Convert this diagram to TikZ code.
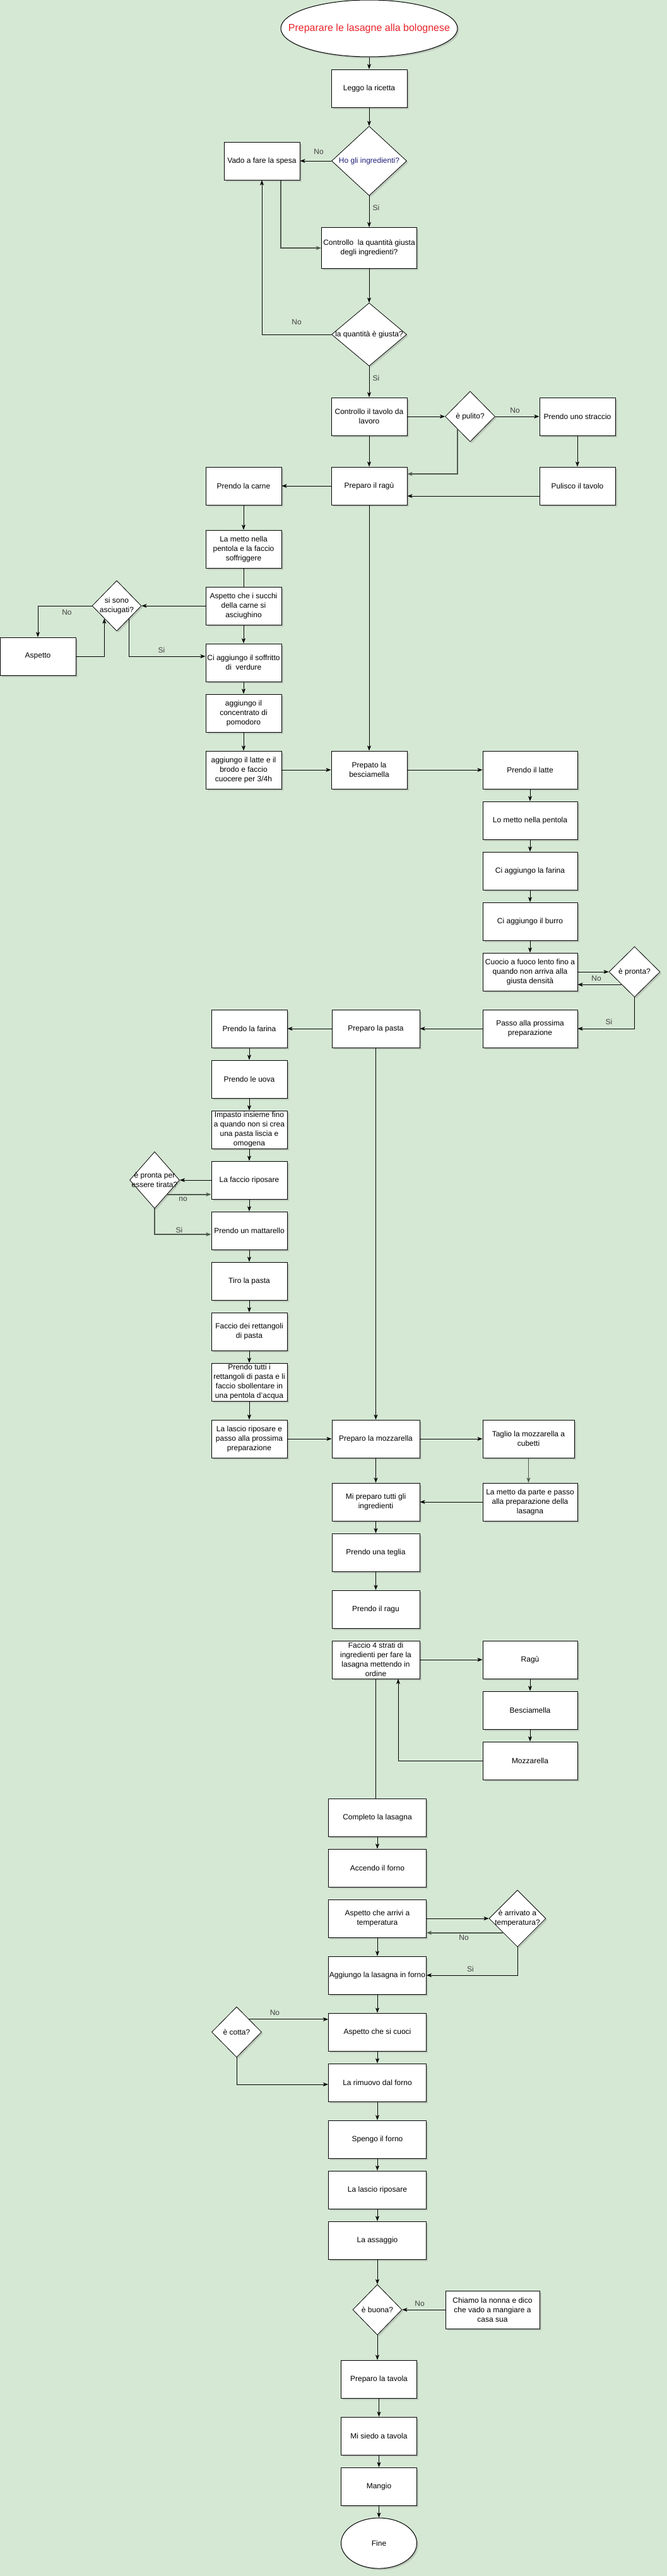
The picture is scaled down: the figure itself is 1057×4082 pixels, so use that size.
\documentclass[tikz,border=0pt]{standalone}
\usepackage{fontspec}
\setmainfont{Liberation Sans}
\usetikzlibrary{shapes.geometric,arrows.meta,shadows,calc}
\definecolor{sfondo}{HTML}{D5E8D4}
\definecolor{rosso}{HTML}{E8232A}
\definecolor{blu}{HTML}{1F1F7A}
\definecolor{grigio}{HTML}{505A50}

\begin{document}
\begin{tikzpicture}[x=1pt,y=-1pt,font=\fontsize{12}{15}\selectfont,
  ombra/.style={drop shadow={shadow xshift=2.5pt,shadow yshift=-2.5pt,opacity=0.3}},
  box/.style={draw,fill=white,line width=1pt,minimum width=#1,minimum height=60pt,align=center,inner sep=1pt,ombra},
  box/.default=120pt,
  rombo/.style 2 args={diamond,draw,fill=white,line width=0.8pt,minimum width=#1,minimum height=#2,inner sep=0pt,ombra},
  ellisse/.style={ellipse,draw,fill=white,line width=1pt,inner sep=0pt,ombra},
  testo/.style={align=center,inner sep=0pt},
  etic/.style={text=black!75,inner sep=0pt},
  freccia/.style={-{Stealth[length=8pt,width=6pt,inset=2pt]},line width=0.8pt},
  grossa/.style={freccia,draw=grigio,line width=1.6pt}]
%\draw[help lines,step=50] (0,0) grid (1057,4082);
\useasboundingbox (0,0) rectangle (1057,4082);
\fill[sfondo] (0,0) rectangle (1057,4082);

% inizio e ingredienti
\node[ellisse,minimum width=280pt,minimum height=90pt] (inizio) at (585,45) {};
\node[testo,text=rosso,font=\fontsize{16}{19}\selectfont] (titolo) at (inizio) {Preparare le lasagne alla bolognese};
\node[box] (leggo) at (585,140) {Leggo la ricetta};
\node[rombo={119pt}{110pt}] (ho) at (585,255) {};
\node[testo,text=blu] (ho-t) at (ho) {Ho gli ingredienti?};
\node[box] (spesa) at (415,255) {Vado a fare la spesa};
\node[box=151pt,minimum height=65pt] (quantita) at (585,393) {Controllo\ \ la quantità giusta\\degli ingredienti?};
\node[rombo={119pt}{100pt}] (giusta) at (585,530) {};
\node[testo] (giusta-t) at (giusta) {la quantità è giusta?};

% tavolo
\node[box] (tavolo) at (585,660) {Controllo il tavolo da\\lavoro};
\node[rombo={79pt}{80pt}] (pulito) at (745,660) {};
\node[testo] (pulito-t) at (pulito) {è pulito?};
\node[box] (straccio) at (915,660) {Prendo uno straccio};
\node[box] (pulisco) at (915,770) {Pulisco il tavolo};

% ragu
\node[box] (ragu) at (585,770) {Preparo il ragù};
\node[box] (carne) at (386,770) {Prendo la carne};
\node[box] (soffriggo) at (386,870) {La metto nella\\pentola e la faccio\\soffriggere};
\node[box] (succhi) at (386,960) {Aspetto che i succhi\\della carne si\\asciughino};
\node[rombo={78pt}{80pt}] (asciugati) at (185,960) {};
\node[testo] (asciugati-t) at (asciugati) {si sono\\asciugati?};
\node[box] (aspetto) at (60,1040) {Aspetto};
\node[box] (soffritto) at (386,1050) {Ci aggiungo il soffritto\\di\ \ verdure};
\node[box] (concentrato) at (386,1130) {aggiungo il\\concentrato di\\pomodoro};
\node[box] (brodo) at (386,1220) {aggiungo il latte e il\\brodo e faccio\\cuocere per 3/4h};

% besciamella
\node[box] (besciamella) at (585,1220) {Prepato la\\besciamella};
\node[box=150pt] (latte) at (840,1220) {Prendo il latte};
\node[box=150pt] (pentola) at (840,1300) {Lo metto nella pentola};
\node[box=150pt] (farina) at (840,1380) {Ci aggiungo la farina};
\node[box=150pt] (burro) at (840,1460) {Ci aggiungo il burro};
\node[box=150pt] (cuocio) at (840,1540) {Cuocio a fuoco lento fino a\\quando non arriva alla\\giusta densità};
\node[rombo={81pt}{80pt}] (pronta) at (1005.5,1540) {};
\node[testo] (pronta-t) at (pronta) {è pronta?};
\node[box=150pt] (passo) at (840,1630) {Passo alla prossima\\preparazione};

% pasta
\node[box=139pt] (pasta) at (595.5,1630) {Preparo la pasta};
\node[box] (prendofarina) at (395,1630) {Prendo la farina};
\node[box] (uova) at (395,1710) {Prendo le uova};
\node[box] (impasto) at (395,1790) {Impasto insieme fino\\a quando non si crea\\una pasta liscia e\\omogena};
\node[box] (riposare) at (395,1870) {La faccio riposare};
\node[rombo={79pt}{90pt}] (tirata) at (245,1870) {};
\node[testo] (tirata-t) at (tirata) {è pronta per\\essere tirata?};
\node[box] (mattarello) at (395,1950) {Prendo un mattarello};
\node[box] (tiro) at (395,2030) {Tiro la pasta};
\node[box] (rettangoli) at (395,2110) {Faccio dei rettangoli\\di pasta};
\node[box] (sbollento) at (395,2190) {Prendo tutti i\\rettangoli di pasta e li\\faccio sbollentare in\\una pentola d'acqua};
\node[box] (lascio) at (395,2280) {La lascio riposare e\\passo alla prossima\\preparazione};

% mozzarella e lasagna
\node[box=139pt] (mozzarella) at (595.5,2280) {Preparo la mozzarella};
\node[box=145pt] (taglio) at (837.5,2280) {Taglio la mozzarella a\\cubetti};
\node[box=139pt] (preparo) at (595.5,2380) {Mi preparo tutti gli\\ingredienti};
\node[box=150pt] (parte) at (840,2380) {La metto da parte e passo\\alla preparazione della\\lasagna};
\node[box=139pt] (teglia) at (595.5,2460) {Prendo una teglia};
\node[box=139pt] (prendoragu) at (595.5,2550) {Prendo il ragu};
\node[box=139pt] (strati) at (595.5,2630) {Faccio 4 strati di\\ingredienti per fare la\\lasagna mettendo in\\ordine};
\node[box=150pt] (stratoragu) at (840,2630) {Ragù};
\node[box=150pt] (stratobesc) at (840,2710) {Besciamella};
\node[box=150pt] (stratomozz) at (840,2790) {Mozzarella};

% forno
\node[box=155pt] (completo) at (598,2880) {Completo la lasagna};
\node[box=155pt] (accendo) at (598,2960) {Accendo il forno};
\node[box=155pt] (arrivi) at (598,3040) {Aspetto che arrivi a\\temperatura};
\node[rombo={90pt}{90pt}] (temp) at (820,3040) {};
\node[testo] (temp-t) at (temp) {è arrivato a\\temperatura?};
\node[box=155pt] (inforno) at (598,3130) {Aggiungo la lasagna in forno};
\node[box=155pt] (cuoci) at (598,3220) {Aspetto che si cuoci};
\node[rombo={79pt}{80pt}] (cotta) at (375,3220) {};
\node[testo] (cotta-t) at (cotta) {è cotta?};
\node[box=155pt] (rimuovo) at (598,3300) {La rimuovo dal forno};
\node[box=155pt] (spengo) at (598,3390) {Spengo il forno};
\node[box=155pt] (riposo) at (598,3470) {La lascio riposare};
\node[box=155pt] (assaggio) at (598,3550) {La assaggio};
\node[rombo={78pt}{80pt}] (buona) at (598,3660) {};
\node[testo] (buona-t) at (buona) {è buona?};
\node[box=149pt] (nonna) at (780.5,3660) {Chiamo la nonna e dico\\che vado a mangiare a\\casa sua};

% fine
\node[box] (tavola) at (600.5,3770) {Preparo la tavola};
\node[box] (siedo) at (600.5,3860) {Mi siedo a tavola};
\node[box] (mangio) at (600.5,3940) {Mangio};
\node[ellisse,minimum width=120pt,minimum height=80pt] (fine) at (600.5,4030) {Fine};

% punti sui rombi
\coordinate (pul) at ($(pulito.south)!0.5!(pulito.west)$);
\coordinate (as1) at ($(asciugati.south)!0.5!(asciugati.west)$);
\coordinate (as2) at ($(asciugati.south)!0.5!(asciugati.east)$);
\coordinate (pr1) at ($(pronta.south)!0.5!(pronta.west)$);
\coordinate (ti1) at ($(tirata.south)!0.5!(tirata.east)$);
\coordinate (te1) at ($(temp.south)!0.5!(temp.west)$);
\coordinate (co1) at ($(cotta.north)!0.5!(cotta.east)$);

% collegamenti
\draw[freccia] (inizio) -- (leggo);
\draw[freccia] (leggo) -- (ho);
\draw[freccia] (ho) -- (spesa);
\draw[freccia] (ho) -- (quantita);
\draw[grossa] ([xshift=30pt]spesa.south) |- (quantita.west);
\draw[freccia] (quantita) -- (giusta);
\draw[freccia] (giusta.west) -| (spesa.south);
\draw[freccia] (giusta) -- (tavolo);
\draw[freccia] (tavolo) -- (pulito);
\draw[freccia] (pulito) -- (straccio);
\draw[freccia] (straccio) -- (pulisco);
\draw[freccia] (tavolo) -- (ragu);
\draw[grossa] (pul) |- ([yshift=19pt]ragu.east);
\draw[freccia] ([yshift=-16pt]pulisco.west) -- ([yshift=-16pt]ragu.east);
\draw[freccia] (ragu) -- (carne);
\draw[freccia] (carne) -- (soffriggo);
\draw[line width=0.8pt] (soffriggo) -- (succhi);
\draw[freccia] (succhi) -- (asciugati);
\draw[freccia] (asciugati.west) -| (aspetto.north);
\draw[freccia] (aspetto.east) -| (as1);
\draw[freccia] (as2) |- ([yshift=10pt]soffritto.west);
\draw[freccia] (succhi) -- (soffritto);
\draw[freccia] (soffritto) -- (concentrato);
\draw[freccia] (concentrato) -- (brodo);
\draw[freccia] (ragu) -- (besciamella);
\draw[freccia] (brodo) -- (besciamella);
\draw[freccia] (besciamella) -- (latte);
\draw[freccia] (latte) -- (pentola);
\draw[freccia] (pentola) -- (farina);
\draw[freccia] (farina) -- (burro);
\draw[freccia] (burro) -- (cuocio);
\draw[freccia] (cuocio) -- (pronta);
\draw[freccia] (pr1) -- (pr1 -| cuocio.east);
\draw[freccia] (pronta.south) |- (passo.east);
\draw[freccia] (passo) -- (pasta);
\draw[freccia] (pasta) -- (prendofarina);
\draw[freccia] (prendofarina) -- (uova);
\draw[freccia] (uova) -- (impasto);
\draw[freccia] (impasto) -- (riposare);
\draw[freccia] (riposare) -- (tirata);
\draw[grossa] (ti1) -- (ti1 -| riposare.west);
\draw[grossa] (tirata.south) |- ([yshift=-6pt]mattarello.west);
\draw[freccia] (riposare) -- (mattarello);
\draw[freccia] (mattarello) -- (tiro);
\draw[freccia] (tiro) -- (rettangoli);
\draw[freccia] (rettangoli) -- (sbollento);
\draw[freccia] (sbollento) -- (lascio);
\draw[freccia] (pasta) -- (mozzarella);
\draw[freccia] (lascio) -- (mozzarella);
\draw[freccia] (mozzarella) -- (taglio);
\draw[freccia] (mozzarella) -- (preparo);
\draw[grossa,line width=1pt] (taglio.south) -- (taglio.south |- parte.north);
\draw[freccia] (parte) -- (preparo);
\draw[freccia] (preparo) -- (teglia);
\draw[freccia] (teglia) -- (prendoragu);
\draw[freccia] (strati) -- (stratoragu);
\draw[freccia] (stratoragu) -- (stratobesc);
\draw[freccia] (stratobesc) -- (stratomozz);
\draw[freccia] (stratomozz.west) -| ([xshift=35.5pt]strati.south);
\draw[line width=0.8pt] (strati.south) -- (strati.south |- completo.north);
\draw[freccia] (completo) -- (accendo);
\draw[freccia] (arrivi) -- (temp);
\draw[grossa] (te1) -- (te1 -| arrivi.east);
\draw[freccia] (temp.south) |- (inforno.east);
\draw[freccia] (arrivi) -- (inforno);
\draw[freccia] (inforno) -- (cuoci);
\draw[freccia] (co1) -- (co1 -| cuoci.west);
\draw[freccia] (cotta.south) |- ([yshift=-3pt]rimuovo.west);
\draw[freccia] (cuoci) -- (rimuovo);
\draw[freccia] (rimuovo) -- (spengo);
\draw[freccia] (spengo) -- (riposo);
\draw[freccia] (riposo) -- (assaggio);
\draw[freccia] (assaggio) -- (buona);
\draw[freccia,{Stealth[length=8pt,width=6pt,inset=2pt]}-] (buona) -- (nonna);
\draw[freccia] (buona.south) -- (buona.south |- tavola.north);
\draw[freccia] (tavola) -- (siedo);
\draw[freccia] (siedo) -- (mangio);
\draw[freccia] (mangio) -- (fine);

% etichette
\node[etic] (no1) at (505,240) {No};
\node[etic] (si1) at (596,329) {Si};
\node[etic] (no2) at (470,510) {No};
\node[etic] (si2) at (596,599) {Si};
\node[etic] (no3) at (816,650) {No};
\node[etic] (no4) at (106,970) {No};
\node[etic] (si3) at (256,1030) {Si};
\node[etic] (no5) at (945,1550) {No};
\node[etic] (si4) at (965,1619) {Si};
\node[etic] (no6) at (290,1900) {no};
\node[etic] (si5) at (284,1949) {Si};
\node[etic] (no7) at (735,3070) {No};
\node[etic] (si6) at (745.5,3120) {Si};
\node[etic] (no8) at (435.5,3189) {No};
\node[etic] (no9) at (665,3650) {No};
\end{tikzpicture}
\end{document}
